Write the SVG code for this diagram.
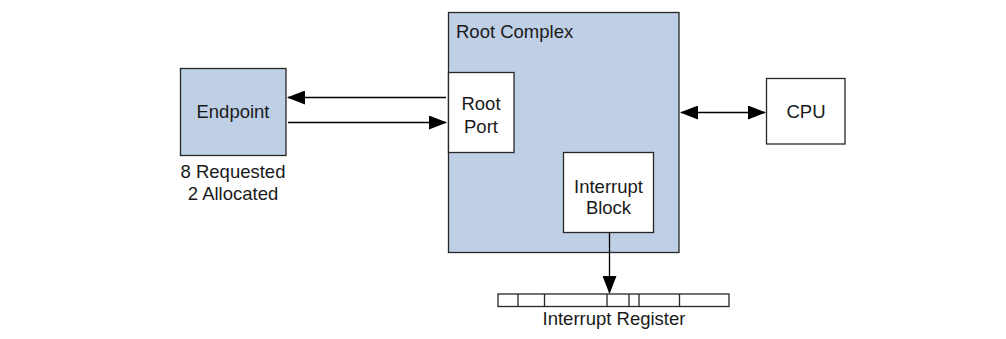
<svg xmlns="http://www.w3.org/2000/svg" width="1006" height="339" viewBox="0 0 1006 339">
<style>
  .box{stroke:#262626;stroke-width:1.3}
  .blue{fill:#bfcfe6}
  .white{fill:#ffffff}
  .t{font-family:"Liberation Sans",Arial,sans-serif;font-size:18.5px;fill:#1a1a1a}
  .m{text-anchor:middle}
  .ln{stroke:#000;stroke-width:1.3;fill:none}
</style>
<defs>
  <marker id="ah" markerUnits="userSpaceOnUse" markerWidth="18" markerHeight="14" refX="17" refY="7" orient="auto-start-reverse" viewBox="0 0 18 14">
    <path d="M0,0 L18,7 L0,14 z" fill="#000"/>
  </marker>
</defs>
<rect width="1006" height="339" fill="#fff"/>
<g id="root-complex">
  <rect class="box blue" x="448.5" y="12.5" width="230.5" height="240"/>
  <text class="t" x="456" y="38">Root Complex</text>
</g>
<g id="root-port">
  <rect class="box white" x="448.5" y="72.5" width="65.5" height="80"/>
  <text class="t m" x="481" y="110">Root</text>
  <text class="t m" x="481" y="133">Port</text>
</g>
<g id="interrupt-block">
  <rect class="box white" x="563.5" y="152.5" width="90" height="80"/>
  <text class="t m" x="608.5" y="192.5">Interrupt</text>
  <text class="t m" x="608.5" y="214">Block</text>
</g>
<g id="endpoint">
  <rect class="box blue" x="180.5" y="68.5" width="105.5" height="87"/>
  <text class="t m" x="233" y="118">Endpoint</text>
  <text class="t m" x="233" y="178">8 Requested</text>
  <text class="t m" x="233" y="200">2 Allocated</text>
</g>
<g id="cpu">
  <rect class="box white" x="766.5" y="78.5" width="78.5" height="65.5"/>
  <text class="t m" x="806" y="118">CPU</text>
</g>
<g id="interrupt-register">
  <rect class="box white" x="498" y="294" width="231" height="12.5"/>
  <path class="box" d="M518,294V306.5M544.5,294V306.5M607,294V306.5M629,294V306.5M639,294V306.5M679.5,294V306.5"/>
  <text class="t m" x="614" y="325">Interrupt Register</text>
</g>
<g id="connectors">
  <line class="ln" x1="446" y1="97.5" x2="288" y2="97.5" marker-end="url(#ah)"/>
  <line class="ln" x1="288" y1="122.5" x2="446" y2="122.5" marker-end="url(#ah)"/>
  <line class="ln" x1="681" y1="112.5" x2="765" y2="112.5" marker-start="url(#ah)" marker-end="url(#ah)"/>
  <line class="ln" x1="609.5" y1="233" x2="609.5" y2="293" marker-end="url(#ah)"/>
</g>
</svg>
